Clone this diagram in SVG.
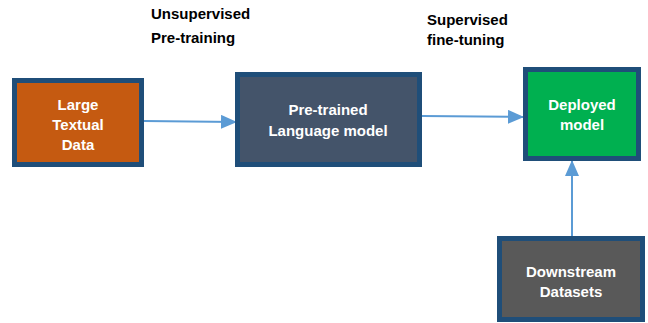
<svg xmlns="http://www.w3.org/2000/svg" width="648" height="323" viewBox="0 0 648 323">
<style>
.box{stroke:#1f4e79;stroke-width:5}
.t{font-family:"Liberation Sans",Arial,sans-serif;font-weight:bold;font-size:15px;fill:#ffffff;text-anchor:middle}
.lbl{font-family:"Liberation Sans",Arial,sans-serif;font-weight:bold;font-size:15px;fill:#000000}
.c{stroke:#5b9bd5;stroke-width:2;fill:none}
</style>
<defs>
<marker id="ah" markerWidth="16" markerHeight="14" refX="15" refY="7" orient="auto" markerUnits="userSpaceOnUse" viewBox="0 0 16 14">
<path d="M0,0 L16,7 L0,14 z" fill="#5b9bd5"/>
</marker>
</defs>
<rect width="648" height="323" fill="#ffffff"/>
<g id="labels">
<text class="lbl" x="151" y="19">Unsupervised</text>
<text class="lbl" x="151" y="43">Pre-training</text>
<text class="lbl" x="427" y="25">Supervised</text>
<text class="lbl" x="427" y="45">fine-tuning</text>
</g>
<g id="connectors">
<line class="c" x1="144" y1="121" x2="236" y2="122" marker-end="url(#ah)"/>
<line class="c" x1="422" y1="116" x2="523" y2="117" marker-end="url(#ah)"/>
<line class="c" x1="572" y1="237" x2="572" y2="161" marker-end="url(#ah)"/>
</g>
<g id="n1">
<rect class="box" x="14.5" y="80.5" width="127" height="84" fill="#c55a11"/>
<text class="t" x="78" y="110">Large</text>
<text class="t" x="78" y="130">Textual</text>
<text class="t" x="78" y="150">Data</text>
</g>
<g id="n2">
<rect class="box" x="237.5" y="74.5" width="182" height="90" fill="#44546a"/>
<text class="t" x="328" y="115">Pre-trained</text>
<text class="t" x="328" y="136">Language model</text>
</g>
<g id="n3">
<rect class="box" x="525.5" y="69.5" width="113" height="89" fill="#00b050"/>
<text class="t" x="582" y="110">Deployed</text>
<text class="t" x="582" y="130">model</text>
</g>
<g id="n4">
<rect class="box" x="499.5" y="238.5" width="143" height="81" fill="#595959"/>
<text class="t" x="571" y="277">Downstream</text>
<text class="t" x="571" y="297">Datasets</text>
</g>
</svg>
